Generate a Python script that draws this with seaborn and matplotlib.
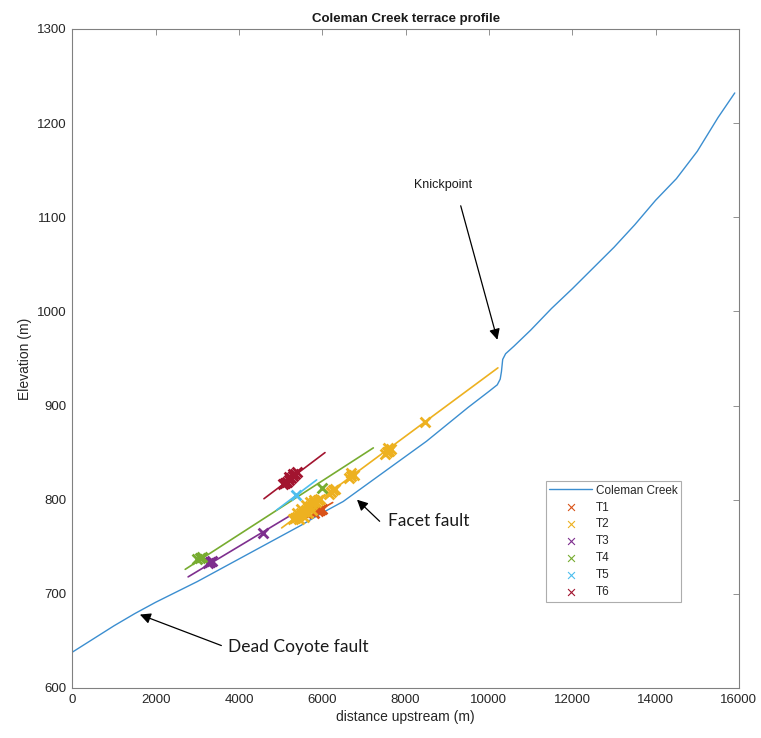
import matplotlib
matplotlib.use("Agg")
import matplotlib.pyplot as plt
import seaborn as sns

# river long profile (distance upstream, elevation)
creek_dist = [0, 500, 1000, 1500, 2000, 2500, 3000, 3500, 4000, 4500, 5000, 5500,
              6000, 6500, 7000, 7500, 8000, 8500, 9000, 9500, 10000, 10200, 10270,
              10300, 10330, 10400, 10600, 11000, 11500, 12000, 12500, 13000, 13500,
              14000, 14500, 15000, 15500, 15900]
creek_elev = [638, 652, 666, 679, 691, 702, 713, 725, 737, 749, 761, 773,
              786, 798, 814, 830, 846, 862, 880, 898, 915, 922, 928,
              936, 949, 955, 963, 980, 1003, 1024, 1046, 1068, 1092,
              1118, 1141, 1170, 1206, 1232]

terraces = ["T1", "T2", "T3", "T4", "T5", "T6"]
colors = ["#D95319", "#EDB120", "#7E2F8E", "#77AC30", "#4DBEEE", "#A2142F"]

# surveyed terrace points
t1_dist = [5800, 5900, 5950, 6000]
t1_elev = [786, 788, 789, 790]
t2_dist = [5300, 5350, 5400, 5450, 5500, 5550, 5600, 5650, 5700, 5750, 5800, 5850,
           5900, 5950, 5400, 5500, 5600, 5700, 5800, 5450, 5550, 5650, 5750,
           6150, 6200, 6250, 6300, 6650, 6700, 6750, 6700,
           7500, 7550, 7600, 7650, 7575, 8465]
t2_elev = [779, 781, 782, 784, 786, 787, 789, 791, 793, 795, 797, 798,
           800, 801, 786, 790, 794, 797, 800, 779, 782, 786, 789,
           806, 808, 810, 811, 823, 825, 826, 828,
           849, 851, 852, 854, 855, 882]
t3_dist = [3250, 3305, 3350, 4575]
t3_elev = [733, 734, 735, 765]
t4_dist = [3000, 3065, 3120, 5985]
t4_elev = [737, 738, 739, 812]
t5_dist = [5370]
t5_elev = [805]
t6_dist = [5050, 5100, 5150, 5200, 5250, 5300, 5350, 5400, 5200, 5300]
t6_elev = [817, 818, 819, 821, 823, 825, 827, 829, 824, 827]

# fitted terrace lines (end points)
t1_line = ([5550, 6250], [779, 797])
t2_line = ([5025, 10215], [770, 940])
t3_line = ([2780, 5265], [718, 784])
t4_line = ([2710, 7225], [726, 855])
t5_line = ([4905, 5865], [789, 821])
t6_line = ([4600, 6065], [801, 850])

points = [(t1_dist, t1_elev), (t2_dist, t2_elev), (t3_dist, t3_elev),
          (t4_dist, t4_elev), (t5_dist, t5_elev), (t6_dist, t6_elev)]
lines = [t1_line, t2_line, t3_line, t4_line, t5_line, t6_line]

sns.set_style("white")
plt.rcParams['font.family'] = ['Liberation Sans', 'DejaVu Sans']

fig = plt.figure(figsize=(7.61, 7.38), dpi=100)
ax = fig.add_axes([0.095, 0.0678, 0.876, 0.893])

sns.lineplot(x=creek_dist, y=creek_elev, color="#3B8ED0", lw=1.0,
             label="Coleman Creek", ax=ax)

for (lx, ly), c in zip(lines, colors):
    sns.lineplot(x=lx, y=ly, color=c, lw=1.2, ax=ax, legend=False)

for (px, py), c, name in zip(points, colors, terraces):
    sns.scatterplot(x=px, y=py, color=c, marker="x", s=50, linewidth=2.0,
                    label=name, ax=ax, zorder=3)

ax.set_xlim(0, 16000)
ax.set_ylim(600, 1300)
ax.set_xticks(range(0, 16001, 2000))
ax.set_yticks(range(600, 1301, 100))
ax.tick_params(direction="in", top=True, right=True, length=4, width=0.6,
               color="#808080", labelsize=9.5, labelcolor="#262626", pad=4)
for s in ax.spines.values():
    s.set_color("#808080")
    s.set_linewidth(0.8)

ax.set_title("Coleman Creek terrace profile", fontsize=9.5, fontweight="bold",
             color="#1a1a1a", pad=5)
ax.set_xlabel("distance upstream (m)", fontsize=10, color="#262626", labelpad=3)
ax.set_ylabel("Elevation (m)", fontsize=10, color="#262626", labelpad=4)

arrow = dict(arrowstyle="-|>", color="black", lw=0.9, mutation_scale=16)
ax.annotate("", xy=(10220, 967), xytext=(9305, 1115), arrowprops=arrow)
ax.text(8896, 1134, "Knickpoint", fontsize=9, ha="center", va="center",
        color="#1a1a1a")
ax.annotate("", xy=(6785, 802), xytext=(7425, 775), arrowprops=arrow)
ax.text(7575, 777, "Facet fault", fontsize=12.5, family=["Lato", "DejaVu Sans"],
        ha="left", va="center", color="#1a1a1a")
ax.annotate("", xy=(1560, 679), xytext=(3640, 644), arrowprops=arrow)
ax.text(3740, 643, "Dead Coyote fault", fontsize=12.5, family=["Lato", "DejaVu Sans"],
        ha="left", va="center", color="#1a1a1a")

leg = ax.legend(loc="upper left", bbox_to_anchor=(0.7105, 0.314), fontsize=8.5,
                frameon=True, fancybox=False, edgecolor="#999999",
                labelspacing=0.42, handlelength=3.6, handletextpad=0.35,
                borderpad=0.3, borderaxespad=0, markerscale=0.7)
leg.get_frame().set_linewidth(0.8)
for h in leg.legend_handles[1:]:
    h.set_linewidth(0.8)

fig.savefig("out.png", dpi=100)
